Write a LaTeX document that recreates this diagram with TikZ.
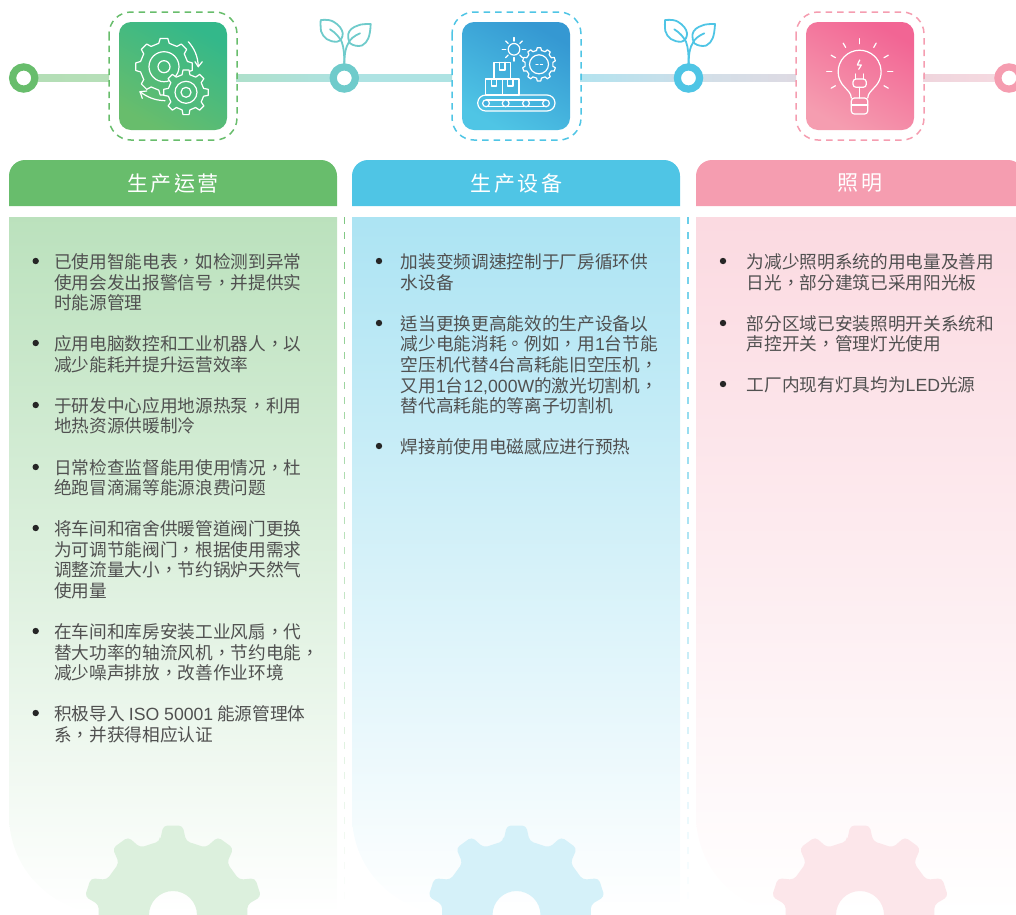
\documentclass[tikz,border=0pt]{standalone}
\usepackage{fontspec}
\setmainfont{Noto Sans CJK TC}
\newfontfamily\latinf{Liberation Sans}
\usetikzlibrary{calc}
\definecolor{txt}{HTML}{505050}
\definecolor{cg}{HTML}{68BD6C}
\definecolor{cb}{HTML}{4FC5E5}
\definecolor{cp}{HTML}{F59DB0}
\definecolor{cr}{HTML}{6FCBCB}
\definecolor{ta}{HTML}{33B88A}
\definecolor{tb}{HTML}{3598D2}
\definecolor{tc}{HTML}{F26594}
\definecolor{fg}{HTML}{4FBB7C}
\definecolor{fb}{HTML}{43AEDD}
\definecolor{la}{HTML}{AEE0CB}
\definecolor{lb}{HTML}{AEE2DF}
\definecolor{lc}{HTML}{AEE3E3}
\definecolor{ld}{HTML}{B3E3EF}
\definecolor{le}{HTML}{C9DFEA}
\definecolor{lf}{HTML}{D2DFE8}
\definecolor{lg}{HTML}{DEDAE3}
\definecolor{lh}{HTML}{EFD5DD}
\definecolor{li}{HTML}{F5D9E0}
\newcommand{\La}[1]{{\latinf #1}}
\tikzset{
  x=1pt,y=-1pt,
  panel/.style={top color=#1,bottom color=white,draw=none},
  header/.style={fill=#1,draw=none},
  bullet/.style={circle,fill=black!85,inner sep=0pt,minimum size=6.4pt},
  itemline/.style={anchor=base west,inner sep=0pt,text=txt,font=\fontsize{17.67pt}{20pt}\selectfont},
  headtext/.style={text=white,inner sep=0pt,font=\fontsize{21pt}{24pt}\selectfont},
  dashbox/.style={draw=#1,line width=1.5pt,dash pattern=on 6.5pt off 5pt,rounded corners=22pt},
  ring/.style={circle,draw=#1,line width=7.2pt,fill=white,minimum size=22.2pt,inner sep=0pt},
  ico/.style={draw=white,line width=1.2pt,line join=round,line cap=round},
  leaf/.style={draw=#1,line width=1.8pt,line join=round,line cap=round},
}
% gear outline: centre x, y, root radius, tip radius, teeth
\newcommand{\gearpath}[5]{%
  ({#1+#3*cos(-90-0.28*360/#5)},{#2+#3*sin(-90-0.28*360/#5)})
  \foreach \k in {1,...,#5}{
    -- ({#1+#4*cos(-90+(\k-1)*360/#5-0.17*360/#5)},{#2+#4*sin(-90+(\k-1)*360/#5-0.17*360/#5)})
    -- ({#1+#4*cos(-90+(\k-1)*360/#5+0.17*360/#5)},{#2+#4*sin(-90+(\k-1)*360/#5+0.17*360/#5)})
    -- ({#1+#3*cos(-90+(\k-1)*360/#5+0.28*360/#5)},{#2+#3*sin(-90+(\k-1)*360/#5+0.28*360/#5)})
    -- ({#1+#3*cos(-90+\k*360/#5-0.28*360/#5)},{#2+#3*sin(-90+\k*360/#5-0.28*360/#5)})
  } -- cycle
}
\begin{document}
\begin{tikzpicture}
\useasboundingbox (0,0) rectangle (1016,914);
\clip (0,0) rectangle (1016,914);

% panels
\shade[panel=cg!45!white] (9,217) -- (337,217) -- (337,914) -- (95,914) .. controls (45,905) and (9,865) .. (9,815) -- cycle;
\shade[panel=cb!47!white] (352,217) -- (680,217) -- (680,914) -- (438,914) .. controls (388,905) and (352,865) .. (352,815) -- cycle;
\shade[panel=cp!38!white] (696,217) -- (1024,217) -- (1024,914) -- (781,914) .. controls (731,905) and (696,865) .. (696,815) -- cycle;

% panel gears
\fill[fill=cg!23!white,even odd rule,rounded corners=4pt] \gearpath{173}{915}{75}{90}{10} (197,915) arc[start angle=0,end angle=360,radius=24];
\fill[fill=cb!24!white,even odd rule,rounded corners=4pt] \gearpath{516.5}{915}{75}{90}{10} (540.5,915) arc[start angle=0,end angle=360,radius=24];
\fill[fill=cp!26!white,even odd rule,rounded corners=4pt] \gearpath{860}{915}{75}{90}{10} (884,915) arc[start angle=0,end angle=360,radius=24];

% separators
\foreach \i in {0,...,45}{
  \pgfmathsetmacro{\p}{max(0,85*(1-\i/46))}
  \draw[line width=1.4pt,draw=cg!\p!white] (344.5,217+15*\i) -- (344.5,224+15*\i);
  \draw[line width=1.4pt,draw=cb!\p!white] (688,217+15*\i) -- (688,224+15*\i);
}

% headers
\fill[header=cg] (9,206) -- (9,176) arc[start angle=180,end angle=270,radius=16] -- (321,160) arc[start angle=270,end angle=360,radius=16] -- (337,206) -- cycle;
\fill[header=cb] (352,206) -- (352,176) arc[start angle=180,end angle=270,radius=16] -- (664,160) arc[start angle=270,end angle=360,radius=16] -- (680,206) -- cycle;
\fill[header=cp] (696,206) -- (696,176) arc[start angle=180,end angle=270,radius=16] -- (1008,160) arc[start angle=270,end angle=360,radius=16] -- (1024,206) -- cycle;
\node[headtext] (h1) at (173,183.5) {生\kern2.5pt产\kern2.5pt运\kern2.5pt营};
\node[headtext] (h2) at (516.5,183.5) {生\kern2.5pt产\kern2.5pt设\kern2.5pt备};
\node[headtext] (h3) at (860,183.5) {照\kern2.5pt明};

% timeline
\shade[left color=cg!50!white,right color=cg!48!white] (38,74) rectangle (109,81.7);
\shade[left color=la,right color=lb] (236,74) rectangle (331,81.7);
\shade[left color=lc,right color=lc] (358,74) rectangle (452,81.7);
\shade[left color=ld,right color=le] (580,74) rectangle (675,81.7);
\shade[left color=lf,right color=lg] (702,74) rectangle (796,81.7);
\shade[left color=lh,right color=li] (923,74) rectangle (995,81.7);
\node[ring=cg] (r1) at (23.7,78) {};
\node[ring=cr] (r2) at (344.3,78) {};
\node[ring=cb] (r3) at (688.5,78) {};
\node[ring=cp] (r4) at (1009,78) {};

% tiles
\draw[dashbox=cg] (109,12) rectangle (237,140);
\draw[dashbox=cb] (452,12) rectangle (581,140);
\draw[dashbox=cp] (796,12) rectangle (924,140);
\shade[rounded corners=12pt,bottom color=cg,top color=ta,shading angle=-30] (119,22) rectangle (227,130);
\shade[rounded corners=12pt,bottom color=cb,top color=tb,shading angle=-30] (462,22) rectangle (570,130);
\shade[rounded corners=12pt,bottom color=cp,top color=tc,shading angle=-30] (806,22) rectangle (914,130);

% sprouts
\foreach \dx/\col in {0/cr,344.3/cb}{
\begin{scope}[xshift=\dx pt]
  \draw[leaf=\col] (330,29.3) .. controls (336,33) and (339,37) .. (341.7,41.7) .. controls (344,48) and (344.3,55) .. (344.3,64);
  \draw[leaf=\col] (360,33.3) .. controls (354,36) and (350,39) .. (348.3,43.3) .. controls (346,47) and (344.5,52) .. (344.3,64);
  \draw[leaf=\col] (320.7,20) .. controls (327,19.5) and (331,20) .. (334,22) .. controls (339,25) and (342,29) .. (342.7,33) .. controls (343,37) and (341,41) .. (337,41.7) .. controls (329,42) and (323,38) .. (321,31) .. controls (320.5,27) and (320.5,23) .. (320.7,20) -- cycle;
  \draw[leaf=\col] (370.7,24) .. controls (366,24) and (361,24) .. (358,25.5) .. controls (353,27) and (349,30) .. (348.3,34) .. controls (348,38) and (348.5,41) .. (350,43.3) .. controls (354,46) and (358,46.5) .. (362,45.5) .. controls (368,42) and (370,37) .. (370.7,24) -- cycle;
\end{scope}}

% icon 1: gears
\draw[ico] \gearpath{164}{66.7}{24}{28.5}{8};
\draw[ico] (179,66.7) arc[start angle=0,end angle=360,radius=15];
\draw[ico] (170,66.7) arc[start angle=0,end angle=360,radius=6];
\fill[fill=fg,draw=white,line width=1.2pt,line join=round] \gearpath{186}{92.3}{18}{22.5}{8};
\draw[ico] (197,92.3) arc[start angle=0,end angle=360,radius=11];
\draw[ico] (191,92.3) arc[start angle=0,end angle=360,radius=5];
\draw[ico] (188.3,41.7) .. controls (194,48) and (198,56) .. (198.3,66.7);
\draw[ico] (195,61.7) -- (198.3,66.7) -- (202.3,61.7);
\draw[ico] (165,100.7) .. controls (155,100.5) and (147,97) .. (140,91.7);
\draw[ico] (146.7,91) -- (140,91.7) -- (142.3,98.3);

% icon 2: conveyor
\foreach \a in {0,45,...,315}{\draw[ico] ($(514,49.3)+(\a:8.2)$) -- ($(514,49.3)+(\a:11.8)$);}
\draw[ico] (519.8,49.3) arc[start angle=0,end angle=360,radius=5.8];
\draw[ico] \gearpath{539}{64.3}{14}{16.7}{10};
\draw[ico] (548.5,64.3) arc[start angle=0,end angle=360,radius=9.5];
\draw[ico] (536,64.3) -- (538,64.3) (540.5,64.3) -- (542.5,64.3);
\draw[ico] (494,62.3) rectangle (510.7,79);
\draw[ico] (485.7,79) rectangle (502.3,95);
\draw[ico] (502.3,79) rectangle (519,95);
\draw[ico] (499.7,62.3) -- (499.7,70) -- (505,70) -- (505,62.3);
\draw[ico] (491.3,79) -- (491.3,86) -- (496.7,86) -- (496.7,79);
\draw[ico] (507.7,79) -- (507.7,86) -- (513,86) -- (513,79);
\draw[ico,rounded corners=8pt] (477.7,95) rectangle (555,111);
\draw[ico] (486,100) -- (546,100) (486,106.7) -- (546,106.7);
\foreach \x in {486,505.7,526,546}{\fill[fill=fb,draw=white,line width=1.2pt] (\x+3.4,103.3) arc[start angle=0,end angle=360,radius=3.4];}

% icon 3: bulb
\draw[ico] (851.3,98) .. controls (851,93) and (848,91) .. (844.7,87.2) arc[start angle=134,end angle=406,radius=21.5] .. controls (871.5,91) and (868,93) .. (867.7,98);
\draw[ico,rounded corners=3pt] (851.3,98) -- (851.3,114) -- (867.7,114) -- (867.7,98) -- cycle;
\draw[ico] (851.3,105) -- (867.7,105);
\draw[ico] (859.7,87.3) -- (859.7,98);
\draw[ico,rounded corners=3pt] (853,79) -- (853,87.3) -- (866.3,87.3) -- (866.3,79) -- cycle;
\draw[ico] (855.6,74) -- (855.6,79) (863.7,74) -- (863.7,79);
\draw[ico] (859.7,60) -- (857.3,65) -- (861.3,65) -- (858.7,69.3);
\foreach \a in {-180,-150,-120,-90,-60,-30,0,30,150}{\draw[ico] ($(859.7,71.7)+(\a:28)$) -- ($(859.7,71.7)+(\a:33)$);}

% column 1 text
\foreach \y/\t [count=\i] in {
 261/{已使用智能电表，如检测到异常},282/{使用会发出报警信号，并提供实},302/{时能源管理},
 343/{应用电脑数控和工业机器人，以},364/{减少能耗并提升运营效率},
 405/{于研发中心应用地源热泵，利用},425/{地热资源供暖制冷},
 467/{日常检查监督能用使用情况，杜},487/{绝跑冒滴漏等能源浪费问题},
 528/{将车间和宿舍供暖管道阀门更换},549/{为可调节能阀门，根据使用需求},569/{调整流量大小，节约锅炉天然气},590/{使用量},
 631/{在车间和库房安装工业风扇，代},652/{替大功率的轴流风机，节约电能，},672/{减少噪声排放，改善作业环境},
 713/{积极导入 \La{ISO 50001} 能源管理体},734/{系，并获得相应认证}}{
  \node[itemline] (a\i) at (54,\y+7) {\t};
}
\foreach \y [count=\i] in {261,343,405,467,528,631,713}{\node[bullet] (ab\i) at (35.7,\y) {};}

% column 2 text
\foreach \y/\t [count=\i] in {
 261/{加装变频调速控制于厂房循环供},282/{水设备},
 323/{适当更换更高能效的生产设备以},343/{减少电能消耗。例如，用\La{1}台节能},364/{空压机代替\La{4}台高耗能旧空压机，},385/{又用\La{1}台\La{12,000W}的激光切割机，},405/{替代高耗能的等离子切割机},
 446/{焊接前使用电磁感应进行预热}}{
  \node[itemline] (b\i) at (400.5,\y+7) {\t};
}
\foreach \y [count=\i] in {261,323,446}{\node[bullet] (bb\i) at (379,\y) {};}

% column 3 text
\foreach \y/\t [count=\i] in {
 261/{为减少照明系统的用电量及善用},282/{日光，部分建筑已采用阳光板},
 323/{部分区域已安装照明开关系统和},343/{声控开关，管理灯光使用},
 384/{工厂内现有灯具均为\La{LED}光源}}{
  \node[itemline] (c\i) at (746.5,\y+7) {\t};
}
\foreach \y [count=\i] in {261,323,384}{\node[bullet] (cb\i) at (723,\y) {};}
\end{tikzpicture}
\end{document}
